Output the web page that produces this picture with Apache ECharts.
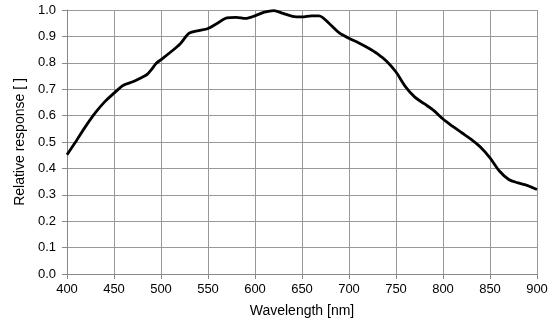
<!DOCTYPE html>
<html>
<head>
<meta charset="utf-8">
<script src="https://cdn.jsdelivr.net/npm/echarts@6/dist/echarts.min.js"></script>
<style>html,body{margin:0;padding:0;background:#fff}#c{width:559px;height:331px}</style>
</head>
<body>
<div id="c"></div>
<script>
const wavelengths = [400,410,420,430,440,450,460,470,480,485,490,495,500,510,520,530,540,550,560,570,580,590,600,610,620,630,640,650,660,668,680,690,700,710,720,730,740,750,760,770,780,790,800,810,820,830,840,850,860,870,880,890,900];
const response = [0.452,0.505,0.56,0.61,0.652,0.685,0.715,0.728,0.745,0.755,0.775,0.798,0.812,0.84,0.87,0.912,0.922,0.93,0.95,0.97,0.972,0.968,0.978,0.992,0.998,0.987,0.976,0.974,0.978,0.978,0.945,0.912,0.893,0.876,0.857,0.835,0.806,0.765,0.71,0.67,0.645,0.62,0.587,0.56,0.535,0.51,0.48,0.44,0.39,0.358,0.345,0.335,0.32];
const xTicks = [400,450,500,550,600,650,700,750,800,850,900];
const yTicks = [0.0,0.1,0.2,0.3,0.4,0.5,0.6,0.7,0.8,0.9,1.0];

const chart = echarts.init(document.getElementById('c'), null, {renderer:'canvas'});
const font = 'Liberation Sans, Arial, sans-serif';
chart.setOption({
  animation:false,
  backgroundColor:'#fff',
  grid:{left:67,right:22,top:10,bottom:57},
  xAxis:{
    type:'value',min:xTicks[0],max:xTicks[xTicks.length-1],interval:50,
    name:'Wavelength [nm]',nameLocation:'middle',nameGap:30,
    nameTextStyle:{fontFamily:font,fontSize:14,color:'#000'},
    axisLine:{lineStyle:{color:'#888',width:1}},
    axisTick:{show:true,length:5,lineStyle:{color:'#888'}},
    axisLabel:{fontFamily:font,fontSize:13,color:'#000',margin:9},
    splitLine:{show:true,lineStyle:{color:'#999',width:1}}
  },
  yAxis:{
    type:'value',min:yTicks[0],max:yTicks[yTicks.length-1],interval:0.1,
    name:'Relative response [ ]',nameLocation:'middle',nameGap:39,
    nameTextStyle:{fontFamily:font,fontSize:14,color:'#000'},
    axisLine:{show:true,lineStyle:{color:'#888',width:1}},
    axisTick:{show:true,length:5,lineStyle:{color:'#888'}},
    axisLabel:{fontFamily:font,fontSize:13,color:'#000',margin:11,formatter:v=>v.toFixed(1)},
    splitLine:{show:true,lineStyle:{color:'#999',width:1}}
  },
  series:[{
    type:'line',
    data:wavelengths.map((w,i)=>[w,response[i]]),
    smooth:0.3,showSymbol:false,
    lineStyle:{color:'#000',width:2.8}
  }]
});
</script>
</body>
</html>
